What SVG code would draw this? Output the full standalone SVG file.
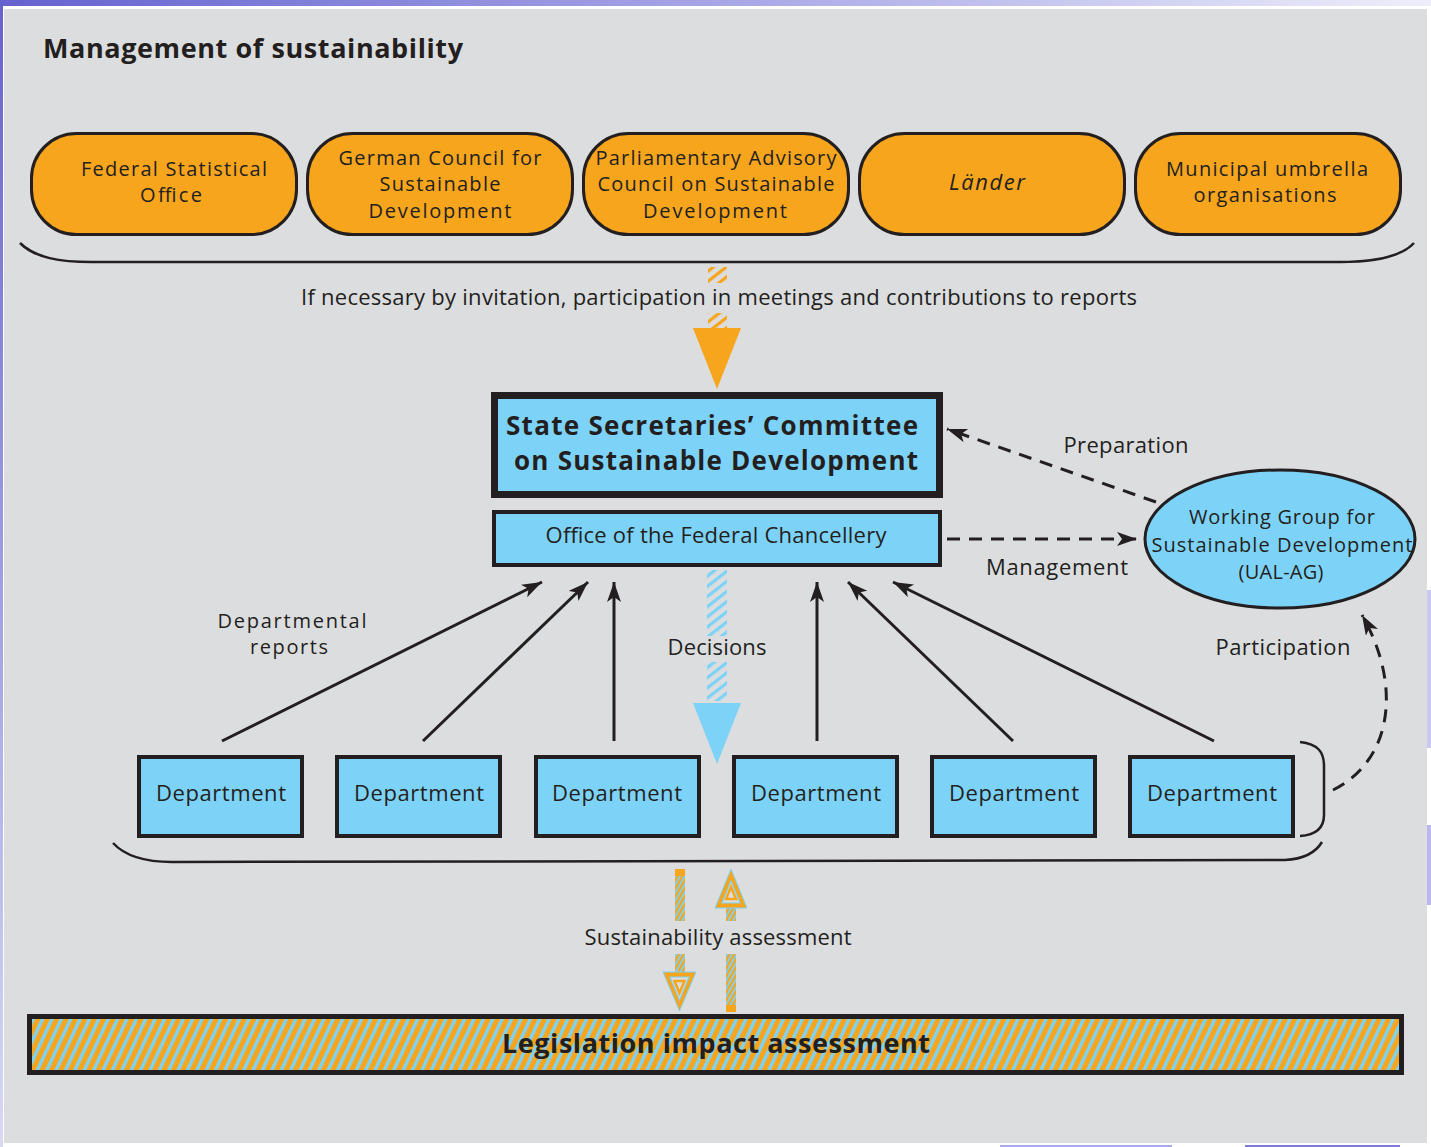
<svg xmlns="http://www.w3.org/2000/svg" width="1431" height="1147" viewBox="0 0 1431 1147">
<style>
.t{font-family:"Open Sans","Noto Sans","DejaVu Sans",sans-serif;font-size:22px;fill:#231f20;text-anchor:middle}
.m{font-size:20px}
.bd{font-weight:bold}
.ob{fill:#f6a51d;stroke:#231f20;stroke-width:3}
.bb{fill:#7dd3f7;stroke:#231f20}
.ln{fill:none;stroke:#231f20;stroke-width:3}
.br{fill:none;stroke:#231f20;stroke-width:2.5}
.ds{fill:none;stroke:#231f20;stroke-width:3;stroke-dasharray:13 9}
</style>
<defs>
<linearGradient id="gTop" x1="0" y1="0" x2="1" y2="0">
<stop offset="0" stop-color="#6562cf"/>
<stop offset="0.6" stop-color="#b4b3ea"/>
<stop offset="1" stop-color="#eeeefa"/>
</linearGradient>
<linearGradient id="gLeft" x1="0" y1="0" x2="0" y2="1">
<stop offset="0" stop-color="#6562cf"/>
<stop offset="1" stop-color="#d9d9f4"/>
</linearGradient>
<pattern id="hBar" patternUnits="userSpaceOnUse" width="8.5" height="20" patternTransform="rotate(25)">
<rect width="8.5" height="20" fill="#f6a51d"/>
<rect width="3.4" height="20" fill="#7dd3f7"/>
</pattern>
<pattern id="hFine" patternUnits="userSpaceOnUse" width="4" height="20" patternTransform="rotate(30)">
<rect width="4" height="20" fill="#7dd3f7"/>
<rect width="2.2" height="20" fill="#f6a51d"/>
</pattern>
<pattern id="hBlue" patternUnits="userSpaceOnUse" width="20" height="8" patternTransform="rotate(-38)">
<rect width="20" height="3.2" fill="#7dd3f7"/>
</pattern>
<pattern id="hOrange" patternUnits="userSpaceOnUse" width="20" height="8" patternTransform="rotate(-38)">
<rect width="20" height="3.2" fill="#f6a51d"/>
</pattern>
<marker id="arr" markerUnits="userSpaceOnUse" markerWidth="22" markerHeight="16" refX="20" refY="7" orient="auto">
<path d="M0,0 L20,7 L0,14 L5,7 z" fill="#231f20"/>
</marker>
</defs>

<g id="background">
<rect width="1431" height="1147" fill="#ffffff"/>
<rect x="0" y="0" width="1431" height="6" fill="url(#gTop)"/>
<rect x="0" y="0" width="3" height="1147" fill="url(#gLeft)"/>
<rect x="1427" y="590" width="4" height="158" fill="#c9c8f0"/>
<rect x="1427" y="825" width="4" height="80" fill="#b9b7ec"/>
<rect x="1000" y="1145" width="172" height="2" fill="#a9a7e6"/>
<rect x="1245" y="1145" width="155" height="2" fill="#7d7ad8"/>
<rect x="4" y="9" width="1423" height="1134" fill="#dcdddf"/>
</g>

<g id="title">
<text class="t bd" x="43" y="58" style="text-anchor:start;font-size:27px" textLength="420" lengthAdjust="spacing">Management of sustainability</text>
</g>

<g id="federal-statistical-office">
<rect class="ob" x="31.5" y="133.5" width="265" height="101" rx="45"/>
<text class="t m" x="174" y="176" textLength="186" lengthAdjust="spacing">Federal Statistical</text>
<text class="t m" x="171" y="202" textLength="62" lengthAdjust="spacing">Office</text>
</g>
<g id="german-council">
<rect class="ob" x="307.5" y="133.5" width="265" height="101" rx="45"/>
<text class="t m" x="440" y="165" textLength="203" lengthAdjust="spacing">German Council for</text>
<text class="t m" x="440" y="191" textLength="121" lengthAdjust="spacing">Sustainable</text>
<text class="t m" x="440" y="218" textLength="143" lengthAdjust="spacing">Development</text>
</g>
<g id="parliamentary-council">
<rect class="ob" x="583.5" y="133.5" width="265" height="101" rx="45"/>
<text class="t m" x="716" y="165" textLength="241" lengthAdjust="spacing">Parliamentary Advisory</text>
<text class="t m" x="716" y="191" textLength="237" lengthAdjust="spacing">Council on Sustainable</text>
<text class="t m" x="715" y="218" textLength="144" lengthAdjust="spacing">Development</text>
</g>
<g id="laender">
<rect class="ob" x="859.5" y="133.5" width="265" height="101" rx="45"/>
<text class="t" x="987" y="190" style="font-style:italic" textLength="76" lengthAdjust="spacing">Länder</text>
</g>
<g id="municipal">
<rect class="ob" x="1135.5" y="133.5" width="265" height="101" rx="45"/>
<text class="t m" x="1267" y="176" textLength="202" lengthAdjust="spacing">Municipal umbrella</text>
<text class="t m" x="1265" y="202" textLength="143" lengthAdjust="spacing">organisations</text>
</g>

<g id="braces">
<path class="br" d="M20,243 C35,258 60,262 92,262 L1340,262 C1375,262 1402,256 1414,243"/>
<path class="br" d="M113,843 C125,856 145,862 172,862 L1285,860 C1305,859 1316,852 1322,842"/>
<path class="br" d="M1300,742 C1318,744 1324,752 1324,766 L1324,815 C1324,828 1316,835 1300,836"/>
</g>

<g id="state-secretaries-committee">
<rect class="bb" x="494.5" y="395.5" width="445" height="99" stroke-width="7"/>
<text class="t bd" x="712" y="435" style="font-size:26px" textLength="412" lengthAdjust="spacing">State Secretaries’ Committee</text>
<text class="t bd" x="716" y="470" style="font-size:26px" textLength="404" lengthAdjust="spacing">on Sustainable Development</text>
</g>
<g id="federal-chancellery">
<rect class="bb" x="494" y="512" width="446" height="53" stroke-width="4"/>
<text class="t" x="716" y="543" textLength="341" lengthAdjust="spacing">Office of the Federal Chancellery</text>
</g>

<g id="working-group">
<ellipse class="bb" cx="1280" cy="539" rx="135" ry="69" stroke-width="3"/>
<text class="t m" x="1282" y="524" textLength="186" lengthAdjust="spacing">Working Group for</text>
<text class="t m" x="1282" y="552" textLength="261" lengthAdjust="spacing">Sustainable Development</text>
<text class="t m" x="1281" y="579" textLength="85" lengthAdjust="spacing">(UAL-AG)</text>
</g>

<g id="departments">
<g id="department-1"><rect class="bb" x="139" y="757" width="163" height="79" stroke-width="4"/><text class="t" x="221" y="801" textLength="130" lengthAdjust="spacing">Department</text></g>
<g id="department-2"><rect class="bb" x="337" y="757" width="163" height="79" stroke-width="4"/><text class="t" x="419" y="801" textLength="130" lengthAdjust="spacing">Department</text></g>
<g id="department-3"><rect class="bb" x="536" y="757" width="163" height="79" stroke-width="4"/><text class="t" x="617" y="801" textLength="130" lengthAdjust="spacing">Department</text></g>
<g id="department-4"><rect class="bb" x="734" y="757" width="163" height="79" stroke-width="4"/><text class="t" x="816" y="801" textLength="130" lengthAdjust="spacing">Department</text></g>
<g id="department-5"><rect class="bb" x="932" y="757" width="163" height="79" stroke-width="4"/><text class="t" x="1014" y="801" textLength="130" lengthAdjust="spacing">Department</text></g>
<g id="department-6"><rect class="bb" x="1130" y="757" width="163" height="79" stroke-width="4"/><text class="t" x="1212" y="801" textLength="130" lengthAdjust="spacing">Department</text></g>
</g>

<g id="legislation-impact-assessment">
<rect x="29.5" y="1016.5" width="1372" height="56" fill="url(#hBar)" stroke="#231f20" stroke-width="5"/>
<text class="t bd" x="716" y="1053" style="font-size:27px" textLength="428" lengthAdjust="spacing">Legislation impact assessment</text>
</g>

<g id="connectors">
<rect x="708" y="267" width="19" height="16" fill="url(#hOrange)"/>
<rect x="708" y="313" width="19" height="15" fill="url(#hOrange)"/>
<polygon points="693,328 741,328 717,389" fill="#f6a51d"/>
<rect x="707" y="570" width="20" height="66" fill="url(#hBlue)"/>
<rect x="707" y="662" width="20" height="39" fill="url(#hBlue)"/>
<polygon points="693,703 741,703 717,764" fill="#7dd3f7"/>
<line class="ln" x1="222" y1="741" x2="542" y2="582" marker-end="url(#arr)"/>
<line class="ln" x1="423" y1="741" x2="588" y2="582" marker-end="url(#arr)"/>
<line class="ln" x1="614" y1="741" x2="614" y2="582" marker-end="url(#arr)"/>
<line class="ln" x1="817" y1="741" x2="817" y2="582" marker-end="url(#arr)"/>
<line class="ln" x1="1013" y1="741" x2="848" y2="582" marker-end="url(#arr)"/>
<line class="ln" x1="1214" y1="741" x2="893" y2="582" marker-end="url(#arr)"/>
<line class="ds" x1="1156" y1="502" x2="947" y2="429" marker-end="url(#arr)"/>
<line class="ds" x1="947" y1="539" x2="1137" y2="539" marker-end="url(#arr)"/>
<path class="ds" d="M1333,790 C1393,760 1402,685 1362,615" marker-end="url(#arr)"/>
<rect x="675" y="869" width="10" height="52" fill="url(#hFine)"/>
<rect x="675" y="869" width="10" height="7" fill="#f6a51d"/>
<rect x="675" y="954" width="10" height="19" fill="url(#hFine)"/>
<polygon points="663,972 696,972 679.5,1011" fill="#f6a51d" stroke="#7dd3f7" stroke-width="1"/>
<polygon points="670,977 689,977 679.5,1000" fill="#dcdddf" stroke="#7dd3f7" stroke-width="1.2"/>
<polygon points="674.5,981 684.5,981 679.5,993" fill="none" stroke="#f6a51d" stroke-width="2.5"/>
<rect x="726" y="906" width="10" height="15" fill="url(#hFine)"/>
<rect x="726" y="954" width="10" height="58" fill="url(#hFine)"/>
<rect x="726" y="1005" width="10" height="7" fill="#f6a51d"/>
<polygon points="715,908 747,908 731,869" fill="#f6a51d" stroke="#7dd3f7" stroke-width="1"/>
<polygon points="722,903 740,903 731,881" fill="#dcdddf" stroke="#7dd3f7" stroke-width="1.2"/>
<polygon points="726,899 736,899 731,887" fill="none" stroke="#f6a51d" stroke-width="2.5"/>
</g>

<g id="labels">
<text class="t" x="719" y="305" textLength="836" lengthAdjust="spacing">If necessary by invitation, participation in meetings and contributions to reports</text>
<text class="t" x="1126" y="453" textLength="125" lengthAdjust="spacing">Preparation</text>
<text class="t" x="1057" y="575" textLength="142" lengthAdjust="spacing">Management</text>
<text class="t m" x="292" y="628" textLength="149" lengthAdjust="spacing">Departmental</text>
<text class="t m" x="289" y="654" textLength="78" lengthAdjust="spacing">reports</text>
<text class="t" x="717" y="655" textLength="99" lengthAdjust="spacing">Decisions</text>
<text class="t" x="1283" y="655" textLength="135" lengthAdjust="spacing">Participation</text>
<text class="t" x="718" y="945" textLength="267" lengthAdjust="spacing">Sustainability assessment</text>
</g>
</svg>
